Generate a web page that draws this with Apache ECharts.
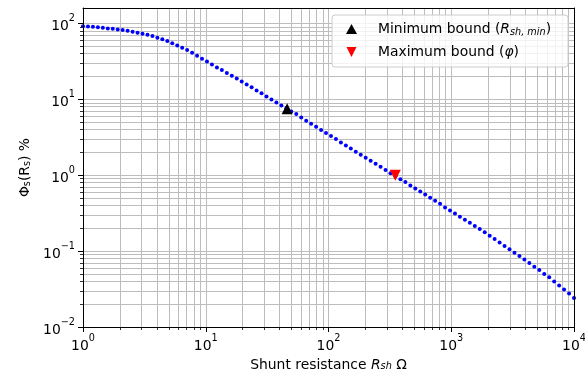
<!DOCTYPE html>
<html>
<head>
<meta charset="utf-8">
<title>Shunt resistance sweep</title>
<script src="https://cdn.jsdelivr.net/npm/echarts@6/dist/echarts.min.js"></script>
<style>
  html, body { margin: 0; padding: 0; background: #ffffff; }
  #chart { width: 585px; height: 377px; }
</style>
</head>
<body>
<div id="chart"></div>
<script>
// Shunt resistance samples (ohm), log-spaced from 1 to 10^4
const resistance = [
  1, 1.0975, 1.2045, 1.3219, 1.4508, 1.5923, 1.7475, 1.9179, 2.1049, 2.3101,
  2.5354, 2.7826, 3.0539, 3.3516, 3.6784, 4.037, 4.4306, 4.8626, 5.3367, 5.857,
  6.4281, 7.0548, 7.7426, 8.4975, 9.326, 10.235, 11.233, 12.328, 13.53, 14.85,
  16.298, 17.886, 19.63, 21.544, 23.645, 25.95, 28.48, 31.257, 34.305, 37.649,
  41.32, 45.349, 49.77, 54.623, 59.948, 65.793, 72.208, 79.248, 86.975, 95.455,
  104.76, 114.98, 126.19, 138.49, 151.99, 166.81, 183.07, 200.92, 220.51, 242.01,
  265.61, 291.5, 319.93, 351.12, 385.35, 422.92, 464.16, 509.41, 559.08, 613.59,
  673.42, 739.07, 811.13, 890.22, 977.01, 1072.3, 1176.8, 1291.5, 1417.5, 1555.7,
  1707.4, 1873.8, 2056.5, 2257, 2477.1, 2718.6, 2983.6, 3274.5, 3593.8, 3944.1,
  4328.8, 4750.8, 5214, 5722.4, 6280.3, 6892.6, 7564.6, 8302.2, 9111.6, 10000
];

// Phi_s(R_s) in percent at each resistance sample
const phi = [
  92.3, 91.4, 90.6, 89.5, 87.7, 86.1, 85.1, 83.4, 81.8, 80.2,
  77.8, 75.3, 73.1, 71.0, 68.2, 64.9, 62.2, 58.6, 55.1, 51.4,
  47.9, 44.6, 41.1, 37.5, 34.3, 31.6, 28.8, 26.4, 24.3, 22.2,
  20.5, 18.9, 17.2, 15.7, 14.4, 13.1, 12.0, 10.9, 9.98, 9.12,
  8.32, 7.64, 6.93, 6.40, 5.78, 5.22, 4.78, 4.36, 3.94, 3.60,
  3.28, 3.00, 2.71, 2.47, 2.25, 2.04, 1.86, 1.70, 1.55, 1.42,
  1.29, 1.17, 1.06, 0.968, 0.885, 0.813, 0.735, 0.671, 0.612, 0.558,
  0.506, 0.461, 0.422, 0.377, 0.344, 0.314, 0.284, 0.259, 0.237, 0.214,
  0.195, 0.177, 0.160, 0.144, 0.130, 0.117, 0.106, 0.0953, 0.0861, 0.0778,
  0.0697, 0.0622, 0.0562, 0.0499, 0.0451, 0.0399, 0.0353, 0.0313, 0.0277, 0.0241
];

// Bounds: [resistance, phi]
const minBound = [46, 7.5];
const maxBound = [350, 1.0];

// Axis ranges and ticks
const xRange = [1, 10000];
const yRange = [0.01, 160];
const xMajorTicks = [1, 10, 100, 1000, 10000];
const yMajorTicks = [0.01, 0.1, 1, 10, 100];
const xGridTicks = [
  2, 3, 4, 5, 6, 7, 8, 9, 10,
  20, 30, 40, 50, 60, 70, 80, 90, 100,
  200, 300, 400, 500, 600, 700, 800, 900, 1000,
  2000, 3000, 4000, 5000, 6000, 7000, 8000, 9000
];
const yGridTicks = [
  0.02, 0.03, 0.04, 0.05, 0.06, 0.07, 0.08, 0.09, 0.1,
  0.2, 0.3, 0.4, 0.5, 0.6, 0.7, 0.8, 0.9, 1,
  2, 3, 4, 5, 6, 7, 8, 9, 10,
  20, 30, 40, 50, 60, 70, 80, 90, 100
];

const FONT = 'DejaVu Sans';
const FS = 13.9;
const GRID_COLOR = '#bdbdbd';

function powLabel(v) {
  const e = Math.round(Math.log10(v));
  return '{b|10}{s|' + (e < 0 ? '\u2212' + (-e) : String(e)) + '}';
}
const powRich = {
  b: { fontFamily: FONT, fontSize: FS, color: '#000', verticalAlign: 'bottom', lineHeight: 20 },
  s: { fontFamily: FONT, fontSize: 9.7, color: '#000', verticalAlign: 'top', lineHeight: 20 }
};

const downTriangle = 'path://M0,0 L2,0 L1,2 Z';

const curve = resistance.map((r, i) => [r, phi[i]]);

const chart = echarts.init(document.getElementById('chart'), null, { renderer: 'canvas' });

chart.setOption({
  animation: false,
  backgroundColor: '#ffffff',
  textStyle: { fontFamily: FONT },
  grid: { left: 83, right: 11, top: 8, bottom: 50, containLabel: false, outerBoundsMode: 'none' },
  legend: {
    left: 332,
    top: 15,
    orient: 'vertical',
    padding: [6, 17, 7, 14],
    itemGap: 7,
    itemWidth: 11,
    itemHeight: 10,
    backgroundColor: 'rgba(255,255,255,0.8)',
    borderColor: '#cccccc',
    borderWidth: 1,
    borderRadius: 3,
    data: [
      { name: 'Minimum bound', icon: 'triangle', itemStyle: { opacity: 1 } },
      { name: 'Maximum bound', icon: downTriangle, itemStyle: { opacity: 1 } }
    ],
    formatter: function (name) {
      if (name === 'Minimum bound') return '{t|Minimum bound (}{i|R}{sub|sh, min}{t|)}';
      return '{t|Maximum bound (}{i|\u03c6}{t|)}';
    },
    textStyle: {
      padding: [0, 0, 0, 16],
      lineHeight: 16,
      rich: {
        t: { fontFamily: FONT, fontSize: FS, color: '#000' },
        i: { fontFamily: FONT, fontSize: FS, fontStyle: 'italic', color: '#000' },
        sub: { fontFamily: FONT, fontSize: 9.7, fontStyle: 'italic', color: '#000', verticalAlign: 'bottom', padding: [4, 0, 0, 0] }
      }
    }
  },
  xAxis: [
    {
      // main axis: decade ticks and labels
      type: 'log', logBase: 10, min: xRange[0], max: xRange[1],
      position: 'bottom', z: 4,
      name: '{t|Shunt resistance }{i|R}{sub|sh}{t| \u03a9}',
      nameLocation: 'middle', nameGap: 30,
      nameTextStyle: {
        rich: {
          t: { fontFamily: FONT, fontSize: FS, color: '#000' },
          i: { fontFamily: FONT, fontSize: FS, fontStyle: 'italic', color: '#000' },
          sub: { fontFamily: FONT, fontSize: 9.7, fontStyle: 'italic', color: '#000', verticalAlign: 'bottom', padding: [4, 0, 0, 0] }
        }
      },
      axisLine: { show: true, lineStyle: { color: '#000', width: 1 } },
      axisTick: { show: true, length: 5, inside: false, customValues: xMajorTicks, lineStyle: { color: '#000', width: 1 } },
      axisLabel: { show: true, margin: 6, customValues: xMajorTicks, formatter: powLabel, rich: powRich },
      splitLine: { show: false },
      minorTick: { show: false }
    },
    {
      // sub-decade ticks and the full grid
      type: 'log', logBase: 10, min: xRange[0], max: xRange[1],
      position: 'bottom', z: 1,
      axisLine: { show: false },
      axisTick: { show: true, length: 3, inside: false, customValues: xGridTicks, lineStyle: { color: '#000', width: 0.8 } },
      axisLabel: { show: false },
      splitLine: { show: true, lineStyle: { color: GRID_COLOR, width: 1 } }
    },
    {
      // top frame
      type: 'log', logBase: 10, min: xRange[0], max: xRange[1],
      position: 'top', z: 4,
      axisLine: { show: true, lineStyle: { color: '#000', width: 1 } },
      axisTick: { show: false }, axisLabel: { show: false }, splitLine: { show: false }
    }
  ],
  yAxis: [
    {
      type: 'log', logBase: 10, min: yRange[0], max: yRange[1],
      position: 'left', z: 4,
      name: '\u03a6{sub|s}(R{sub|s}) %',
      nameLocation: 'middle', nameGap: 50,
      nameTextStyle: {
        fontFamily: FONT, fontSize: FS, color: '#000',
        rich: {
          sub: { fontFamily: FONT, fontSize: 9.7, color: '#000', verticalAlign: 'bottom', padding: [4, 0, 0, 0] }
        }
      },
      axisLine: { show: true, lineStyle: { color: '#000', width: 1 } },
      axisTick: { show: true, length: 5, inside: false, customValues: yMajorTicks, lineStyle: { color: '#000', width: 1 } },
      axisLabel: { show: true, margin: 8, customValues: yMajorTicks, formatter: powLabel, rich: powRich },
      splitLine: { show: false },
      minorTick: { show: false }
    },
    {
      type: 'log', logBase: 10, min: yRange[0], max: yRange[1],
      position: 'left', z: 1,
      axisLine: { show: false },
      axisTick: { show: true, length: 3, inside: false, customValues: yGridTicks, lineStyle: { color: '#000', width: 0.8 } },
      axisLabel: { show: false },
      splitLine: { show: true, lineStyle: { color: GRID_COLOR, width: 1 } }
    },
    {
      // right frame
      type: 'log', logBase: 10, min: yRange[0], max: yRange[1],
      position: 'right', z: 4,
      axisLine: { show: true, lineStyle: { color: '#000', width: 1 } },
      axisTick: { show: false }, axisLabel: { show: false }, splitLine: { show: false }
    }
  ],
  series: [
    {
      name: 'curve',
      type: 'scatter',
      xAxisIndex: 0, yAxisIndex: 0,
      data: curve,
      symbol: 'circle',
      symbolSize: 4,
      itemStyle: { color: '#0000ff', opacity: 1 },
      silent: true,
      z: 3
    },
    {
      name: 'Minimum bound',
      type: 'scatter',
      xAxisIndex: 0, yAxisIndex: 0,
      data: [minBound],
      symbol: 'triangle',
      symbolSize: 11,
      itemStyle: { color: '#000000', opacity: 1 },
      silent: true,
      z: 5
    },
    {
      name: 'Maximum bound',
      type: 'scatter',
      xAxisIndex: 0, yAxisIndex: 0,
      data: [maxBound],
      symbol: downTriangle,
      symbolSize: 11,
      itemStyle: { color: '#ff0000', opacity: 1 },
      silent: true,
      z: 5
    }
  ]
});
</script>
</body>
</html>
